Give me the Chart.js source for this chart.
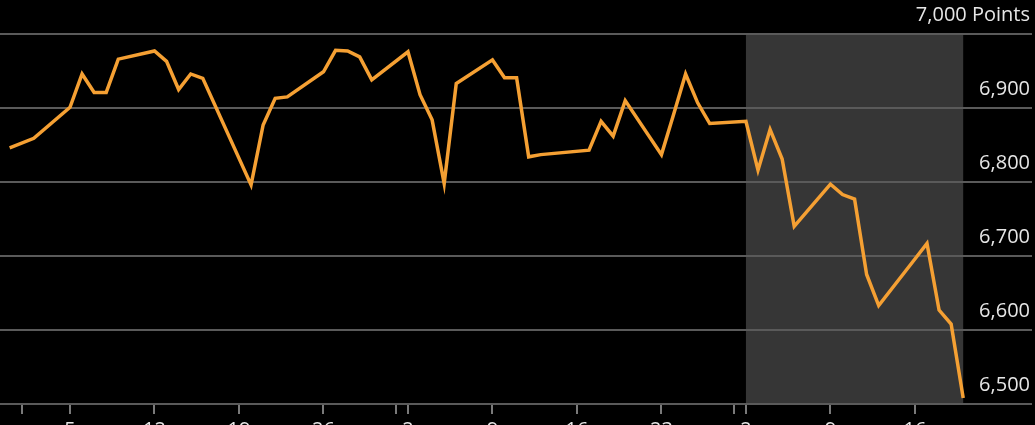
<!DOCTYPE html>
<html>
<head>
<meta charset="utf-8">
<script src="https://cdn.jsdelivr.net/npm/chart.js@4"></script>
<style>
  html, body { margin: 0; padding: 0; background: #000; overflow: hidden; }
  #wrap { width: 1035px; height: 446px; }
</style>
</head>
<body>
<div id="wrap"><canvas id="myChart"></canvas></div>
<script>
// days counted from Jan 1 (= 0); trading days only
var tradeDays = [-1, 1, 4, 5, 6, 7, 8, 11, 12, 13, 14, 15, 19, 20, 21, 22, 25, 26, 27, 28, 29,
    32, 33, 34, 35, 36, 39, 40, 41, 42, 43, 47, 48, 49, 50, 53, 54, 55, 56, 57,
    60, 61, 62, 63, 64, 67, 68, 69, 70, 71, 74, 75, 76, 77, 78];
var closes = [6846, 6859, 6901, 6946, 6921, 6921, 6966, 6977, 6963, 6925, 6946, 6940, 6796, 6877, 6913, 6915, 6949, 6978, 6977, 6969, 6938,
    6976, 6918, 6884, 6798, 6933, 6965, 6941, 6941, 6834, 6837, 6843, 6882, 6862, 6910, 6837, 6891, 6946, 6907, 6879,
    6882, 6816, 6871, 6831, 6740, 6797, 6783, 6777, 6675, 6633, 6696, 6717, 6627, 6608, 6508];
var tickDays = [0, 4, 11, 18, 25, 31, 32, 39, 46, 53, 59, 60, 67, 74];
var tickLabels = ['', '5', '12', '19', '26', '', '2', '9', '16', '23', '', '2', '9', '16'];
var shadeFrom = 60;   // Mar 2
var shadeTo = 78;     // Mar 20

var pts = [];
for (var i = 0; i < tradeDays.length; i++) {
    pts.push({ x: tradeDays[i], y: closes[i] });
}

var shadePlugin = {
    id: 'shade',
    beforeDraw: function (chart) {
        var c = chart.ctx;
        var xs = chart.scales.x;
        var a = chart.chartArea;
        var x1 = xs.getPixelForValue(shadeFrom);
        var x2 = xs.getPixelForValue(shadeTo);
        c.save();
        c.fillStyle = '#363636';
        c.fillRect(x1, a.top, x2 - x1, a.bottom - a.top);
        c.restore();
    }
};

Chart.defaults.font.family = "'Open Sans', sans-serif";
Chart.defaults.font.size = 20;
Chart.defaults.color = '#e6e6e6';

var ctx = document.getElementById('myChart').getContext('2d');
var myChart = new Chart(ctx, {
    type: 'line',
    data: {
        datasets: [{
            data: pts,
            borderColor: '#f5a033',
            borderWidth: 3.5,
            pointRadius: 0,
            tension: 0,
            fill: false
        }]
    },
    plugins: [shadePlugin],
    options: {
        responsive: true,
        maintainAspectRatio: false,
        animation: false,
        layout: { padding: { top: 34, right: 3, left: 0, bottom: 0 } },
        plugins: {
            legend: { display: false },
            tooltip: { enabled: false }
        },
        scales: {
            x: {
                type: 'linear',
                min: -1.8,
                max: 83.7,
                afterBuildTicks: function (axis) {
                    axis.ticks = tickDays.map(function (d) { return { value: d }; });
                },
                ticks: {
                    autoSkip: false,
                    maxRotation: 0,
                    padding: 4,
                    callback: function (v) {
                        var k = tickDays.indexOf(v);
                        return k < 0 ? '' : tickLabels[k];
                    }
                },
                grid: {
                    display: true,
                    drawOnChartArea: false,
                    drawTicks: true,
                    tickLength: 10,
                    color: '#7a7a7a',
                    lineWidth: 2
                },
                border: { display: false }
            },
            y: {
                position: 'right',
                min: 6500,
                max: 7000,
                ticks: {
                    stepSize: 100,
                    mirror: true,
                    padding: -2,
                    labelOffset: -19,
                    callback: function (v) {
                        var s = v.toLocaleString('en-US');
                        return v === 7000 ? s + ' Points' : s;
                    }
                },
                grid: {
                    color: '#5a5a5a',
                    lineWidth: 2,
                    drawTicks: false
                },
                border: { display: false }
            }
        }
    }
});
</script>
</body>
</html>
